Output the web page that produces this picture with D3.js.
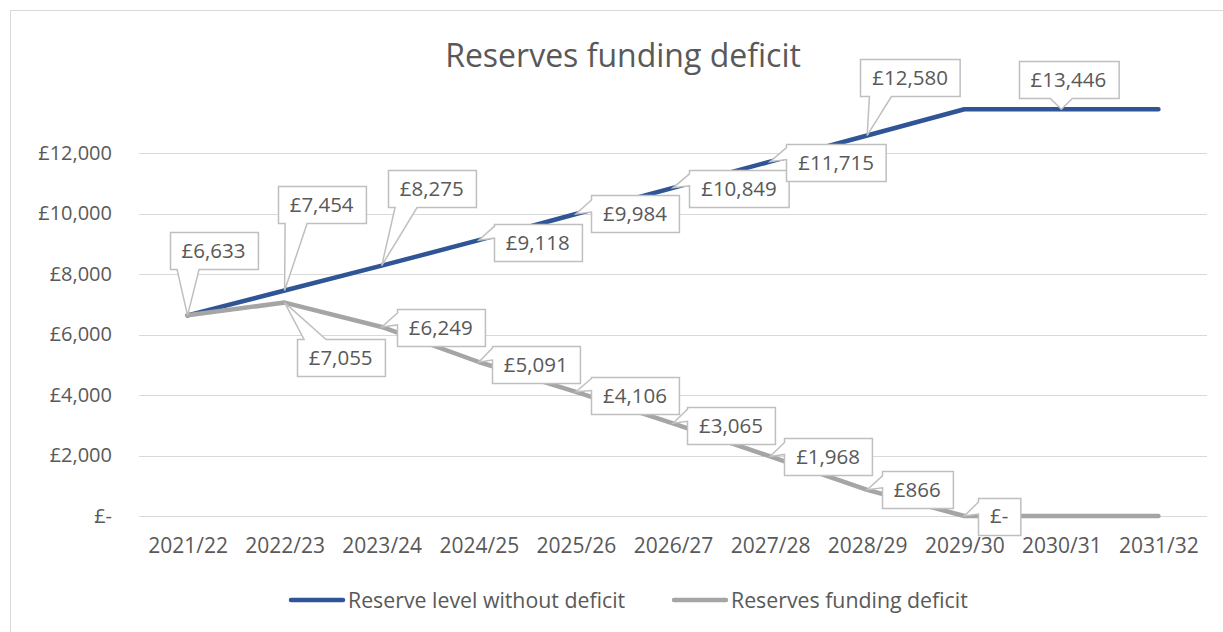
<!DOCTYPE html>
<html>
<head>
<meta charset="utf-8">
<script src="https://cdn.jsdelivr.net/npm/d3@7"></script>
<style>
  body { margin: 0; background: #fff; }
  svg text { font-family: "Open Sans", sans-serif; fill: #595959; }
</style>
</head>
<body>
<div id="chart"></div>
<script>
// chart data
var years = ["2021/22", "2022/23", "2023/24", "2024/25", "2025/26", "2026/27",
  "2027/28", "2028/29", "2029/30", "2030/31", "2031/32"];
var reserveLevel = [6633, 7454, 8275, 9118, 9984, 10849, 11715, 12580, 13446, 13446, 13446];
var fundingDeficit = [6633, 7055, 6249, 5091, 4106, 3065, 1968, 866, 0, 0, 0];
var yTicks = [0, 2000, 4000, 6000, 8000, 10000, 12000];
var seriesNames = ["Reserve level without deficit", "Reserves funding deficit"];
var seriesColors = ["#2f5597", "#a5a5a5"];

// where each callout box sits, relative to its point (null = no label)
var reserveLabelOffsets = [[26, -65], [37, -86], [50, -77], [59, 2], [59, 0], [66, 1],
  [66, 1], [43, -58], null, [7, -30], null];
var deficitLabelOffsets = [null, [56, 55], [59, 1], [57, 3], [59, 4], [58, 2],
  [58, 0], [50, 0], [35, 0], null, null];

var W = 1223, H = 632;
var margin = { top: 92.5, left: 139, right: 16, bottom: 116 };

var svg = d3.select("#chart").append("svg")
  .attr("width", W)
  .attr("height", H);

// chart frame
svg.append("rect")
  .attr("x", 10.5).attr("y", 10.5)
  .attr("width", 1226).attr("height", 640)
  .attr("fill", "#fff")
  .attr("stroke", "#d9d9d9");

var x = d3.scalePoint()
  .domain(years)
  .range([margin.left, W - margin.right])
  .padding(0.5);

var y = d3.scaleLinear()
  .domain([0, 14000])
  .range([H - margin.bottom, margin.top]);

// money format like Excel accounting: £- for zero
function money(v) {
  return v === 0 ? "£-" : "£" + d3.format(",")(v);
}

// gridlines
svg.append("g")
  .selectAll("line")
  .data(yTicks)
  .enter()
  .append("line")
  .attr("x1", margin.left)
  .attr("x2", W - margin.right)
  .attr("y1", function(d) { return Math.round(y(d)) + 0.5; })
  .attr("y2", function(d) { return Math.round(y(d)) + 0.5; })
  .attr("stroke", "#d9d9d9")
  .attr("stroke-width", 1);

// y axis labels
var yAxis = svg.append("g")
  .attr("transform", "translate(" + (margin.left - 27) + ",0)")
  .call(d3.axisLeft(y).tickValues(yTicks).tickFormat(money).tickSize(0).tickPadding(0));
yAxis.select(".domain").remove();
yAxis.selectAll("text")
  .style("font-size", "20px")
  .style("font-family", "Open Sans, sans-serif")
  .attr("fill", "#595959");

// x axis labels
var xAxis = svg.append("g")
  .attr("transform", "translate(0," + (H - margin.bottom) + ")")
  .call(d3.axisBottom(x).tickSize(0).tickPadding(22));
xAxis.select(".domain").remove();
xAxis.selectAll("text")
  .style("font-size", "21px")
  .style("font-family", "Open Sans, sans-serif")
  .attr("fill", "#595959");

// title
svg.append("text")
  .attr("x", 623)
  .attr("y", 67)
  .attr("text-anchor", "middle")
  .style("font-size", "32px")
  .text("Reserves funding deficit");

// lines
var line = d3.line()
  .x(function(d, i) { return x(years[i]); })
  .y(function(d) { return y(d); });

[reserveLevel, fundingDeficit].forEach(function(series, s) {
  svg.append("path")
    .datum(series)
    .attr("d", line)
    .attr("fill", "none")
    .attr("stroke", seriesColors[s])
    .attr("stroke-width", 4.5)
    .attr("stroke-linecap", "round")
    .attr("stroke-linejoin", "round");
});

function clamp(v, lo, hi) { return Math.max(lo, Math.min(hi, v)); }

// box with a wedge pointing back at the data point
function calloutPath(x0, y0, x1, y1, ax, ay) {
  var w = x1 - x0, c, pts;
  if (ay > y1) {
    c = clamp(ax, x0 + 0.2 * w, x1 - 0.2 * w);
    pts = [[x0, y0], [x1, y0], [x1, y1], [c + 11, y1], [ax, ay], [c - 11, y1], [x0, y1]];
  } else if (ay < y0) {
    c = clamp(ax, x0 + 0.2 * w, x1 - 0.2 * w);
    pts = [[x0, y0], [c - 11, y0], [ax, ay], [c + 11, y0], [x1, y0], [x1, y1], [x0, y1]];
  } else if (ax < x0) {
    c = clamp(ay - 8, y0 + 7, y1 - 7);
    pts = [[x0, y0], [x1, y0], [x1, y1], [x0, y1], [x0, c + 6], [ax, ay], [x0, c - 6]];
  } else {
    c = clamp(ay - 8, y0 + 7, y1 - 7);
    pts = [[x0, y0], [x1, y0], [x1, c - 6], [ax, ay], [x1, c + 6], [x1, y1], [x0, y1]];
  }
  return "M" + pts.map(function(p) { return p.join(","); }).join("L") + "Z";
}

function drawLabels(series, offsets) {
  series.forEach(function(v, i) {
    var off = offsets[i];
    if (!off) return;
    var ax = x(years[i]), ay = y(v);
    var cx = ax + off[0], cy = ay + off[1];
    var g = svg.append("g");
    var path = g.append("path");
    var t = g.append("text")
      .attr("x", cx)
      .attr("y", cy)
      .attr("dy", "0.36em")
      .attr("text-anchor", "middle")
      .style("font-size", "20.5px")
      .text(money(v));
    var tw = t.node().getComputedTextLength();
    var bw = tw + 24, bh = 37;
    var x0 = Math.round(cx - bw / 2) + 0.5, y0 = Math.round(cy - bh / 2) + 0.5;
    path.attr("d", calloutPath(x0, y0, x0 + bw, y0 + bh, ax, ay))
      .attr("fill", "#fff")
      .attr("stroke", "#bfbfbf")
      .attr("stroke-width", 1.5);
  });
}

drawLabels(reserveLevel, reserveLabelOffsets);
drawLabels(fundingDeficit, deficitLabelOffsets);

// legend
var legendX = [289, 672];
seriesNames.forEach(function(name, s) {
  var g = svg.append("g").attr("transform", "translate(" + legendX[s] + ",600)");
  g.append("line")
    .attr("x1", 2).attr("x2", 54)
    .attr("y1", 0).attr("y2", 0)
    .attr("stroke", seriesColors[s])
    .attr("stroke-width", 4.5)
    .attr("stroke-linecap", "round");
  g.append("text")
    .attr("x", 59)
    .attr("dy", "0.36em")
    .style("font-size", "21.3px")
    .text(name);
});
</script>
</body>
</html>
